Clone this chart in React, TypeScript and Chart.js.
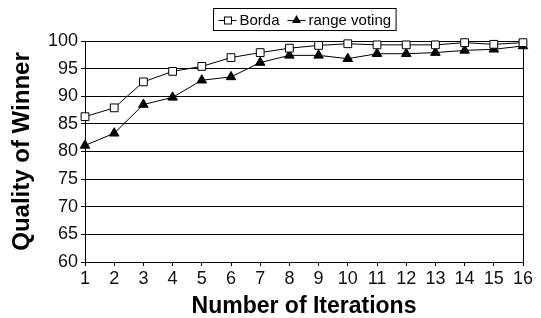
import React, { useEffect, useRef } from 'react';
import { Chart, registerables } from 'chart.js';

Chart.register(...registerables);

const iterations = ['1', '2', '3', '4', '5', '6', '7', '8', '9', '10', '11', '12', '13', '14', '15', '16'];
const bordaValues = [86.3, 87.9, 92.6, 94.5, 95.4, 97.0, 97.9, 98.7, 99.2, 99.5, 99.3, 99.3, 99.3, 99.7, 99.4, 99.7];
const rangeVotingValues = [81.1, 83.3, 88.5, 89.8, 92.9, 93.5, 96.1, 97.4, 97.4, 96.8, 97.7, 97.7, 97.9, 98.3, 98.5, 99.1];
const yMin = 60;
const yMax = 100;
const yStep = 5;
const seriesLabels = ['Borda', 'range voting'];
const xTitle = 'Number of Iterations';
const yTitle = 'Quality of Winner';

const FONT = '"Liberation Sans", Arial, Helvetica, sans-serif';

const boxLegend = {
  id: 'boxLegend',
  afterDraw(chart: any) {
    const ctx = chart.ctx as CanvasRenderingContext2D;
    const area = chart.chartArea;
    ctx.save();
    ctx.font = `15px ${FONT}`;
    const sampleW = 18;
    const gapText = 3;
    const gapItem = 8;
    const padX = 5;
    const items = chart.data.datasets.map((ds: any) => ({
      label: ds.label as string,
      style: ds.pointStyle as string,
      w: ctx.measureText(ds.label).width,
    }));
    const total =
      padX * 2 +
      items.reduce((s: number, it: any) => s + sampleW + gapText + it.w, 0) +
      gapItem * (items.length - 1);
    const cx = (area.left + area.right) / 2;
    const bx = Math.round(cx - total / 2) + 0.5;
    const top = 8.5;
    const h = 22;
    ctx.fillStyle = '#fff';
    ctx.fillRect(bx, top, total, h);
    ctx.strokeStyle = '#000';
    ctx.lineWidth = 1;
    ctx.strokeRect(bx, top, total, h);
    const cy = top + h / 2;
    let x = bx + padX;
    items.forEach((it: any) => {
      ctx.beginPath();
      ctx.moveTo(x, Math.round(cy) + 0.5);
      ctx.lineTo(x + sampleW, Math.round(cy) + 0.5);
      ctx.strokeStyle = '#000';
      ctx.stroke();
      const mx = x + sampleW / 2;
      if (it.style === 'rect') {
        ctx.fillStyle = '#fff';
        ctx.fillRect(Math.round(mx) - 3.5, Math.round(cy) - 3, 7, 7);
        ctx.strokeRect(Math.round(mx) - 3.5, Math.round(cy) - 3, 7, 7);
      } else {
        ctx.beginPath();
        ctx.moveTo(mx, cy - 4.5);
        ctx.lineTo(mx + 4.5, cy + 3.5);
        ctx.lineTo(mx - 4.5, cy + 3.5);
        ctx.closePath();
        ctx.fillStyle = '#000';
        ctx.fill();
      }
      ctx.fillStyle = '#000';
      ctx.textBaseline = 'middle';
      ctx.textAlign = 'left';
      ctx.fillText(it.label, x + sampleW + gapText, cy + 1);
      x += sampleW + gapText + it.w + gapItem;
    });
    ctx.restore();
  },
};

export default function App() {
  const canvasRef = useRef<HTMLCanvasElement | null>(null);

  useEffect(() => {
    const canvas = canvasRef.current;
    if (!canvas) return;
    const chart = new Chart(canvas, {
      type: 'line',
      data: {
        labels: iterations,
        datasets: [
          {
            label: seriesLabels[0],
            data: bordaValues,
            borderColor: '#000',
            borderWidth: 1,
            backgroundColor: '#fff',
            pointStyle: 'rect',
            pointRadius: 5.5,
            pointBorderWidth: 1,
            pointBorderColor: '#000',
            pointBackgroundColor: '#fff',
            tension: 0,
            clip: false as any,
          },
          {
            label: seriesLabels[1],
            data: rangeVotingValues,
            borderColor: '#000',
            borderWidth: 1,
            backgroundColor: '#000',
            pointStyle: 'triangle',
            pointRadius: 5.5,
            pointBorderWidth: 1,
            pointBorderColor: '#000',
            pointBackgroundColor: '#000',
            tension: 0,
            clip: false as any,
          },
        ],
      },
      options: {
        animation: false,
        responsive: true,
        maintainAspectRatio: false,
        layout: { padding: { top: 41, right: 18, left: 0, bottom: 0 } },
        plugins: {
          legend: { display: false },
          tooltip: { enabled: false },
          title: { display: false },
        },
        scales: {
          x: {
            type: 'category',
            offset: false,
            afterFit: (scale: any) => {
              scale.height = 56;
            },
            grid: {
              color: (c: any) => (c.index === iterations.length - 1 ? '#000' : 'rgba(0,0,0,0)'),
              tickColor: '#000',
              drawTicks: true,
              tickLength: 4,
              lineWidth: 1,
            },
            border: { display: true, color: '#000', width: 1 },
            ticks: {
              color: '#111',
              font: { family: FONT, size: 18 },
              padding: 2,
              maxRotation: 0,
              autoSkip: false,
            },
            title: {
              display: true,
              text: xTitle,
              color: '#000',
              font: { family: FONT, size: 23, weight: 'bold' },
              padding: { top: 0, bottom: -2 },
            },
          },
          y: {
            min: yMin,
            max: yMax,
            afterFit: (scale: any) => {
              scale.width = 85;
            },
            grid: {
              color: '#000',
              tickColor: '#000',
              drawTicks: true,
              tickLength: 4,
              lineWidth: 1,
            },
            border: { display: true, color: '#000', width: 1 },
            ticks: {
              stepSize: yStep,
              color: '#111',
              font: { family: FONT, size: 18 },
              padding: 3,
            },
            title: {
              display: true,
              text: yTitle,
              color: '#000',
              font: { family: FONT, size: 24, weight: 'bold' },
              padding: { top: 8, bottom: 0 },
            },
          },
        },
      },
      plugins: [boxLegend],
    });
    return () => chart.destroy();
  }, []);

  return (
    <div style={{ position: 'absolute', left: 0, top: 0, width: 541, height: 318, background: '#fff' }}>
      <canvas ref={canvasRef} />
    </div>
  );
}
